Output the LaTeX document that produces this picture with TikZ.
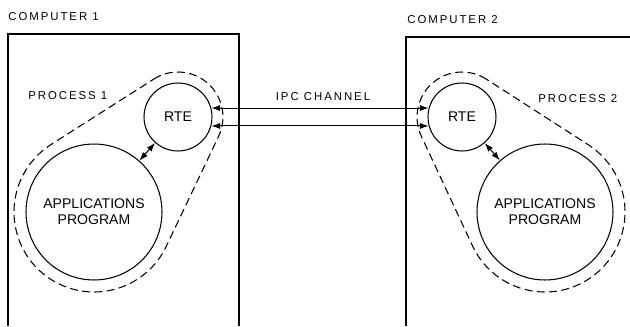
\documentclass[tikz,border=0pt]{standalone}
\usepackage{fontspec}
\setmainfont{Liberation Sans}
\usetikzlibrary{arrows.meta,calc}
\begin{document}
\begin{tikzpicture}[x=0.02cm,y=0.02cm,
  box/.style={line width=0.7pt},
  circ/.style={circle,draw,line width=0.6pt,inner sep=0pt,align=center,font=\fontsize{8}{9}\selectfont},
  hull/.style={line width=0.6pt,dash pattern=on 4.5pt off 2.5pt},
  lab/.style={font=\fontsize{6.5}{8}\selectfont\addfontfeature{LetterSpace=17},inner sep=0pt},
  link/.style={line width=0.6pt,{Latex[length=5pt,width=3.5pt]}-{Latex[length=5pt,width=3.5pt]}}]
\useasboundingbox (0,0) rectangle (630,326);

% computers
\draw[box] (8,0) |- (239,292) -- (239,0);
\draw[box] (406,0) |- (630,289);
\node[lab,anchor=west] (c1) at (8,309) {COMPUTER 1};
\node[lab,anchor=west] (c2) at (407,306) {COMPUTER 2};

% process 1
\node[circ,minimum size=1.36cm] (rte1) at (178,209) {RTE};
\node[circ,minimum size=2.72cm] (app1) at (94,114) {APPLICATIONS\\PROGRAM};
\draw[hull] ($(178,209)+(122.5:45)$) arc[start angle=122.5, end angle=-25.5, radius=45]
  -- ($(94,114)+(-25.5:80)$) arc[start angle=-25.5, end angle=-237.5, radius=80] -- cycle;
\node[lab,anchor=west] (p1) at (28,230) {PROCESS 1};
\draw[link] (rte1) -- (app1);

% process 2
\node[circ,minimum size=1.36cm] (rte2) at (462,209) {RTE};
\node[circ,minimum size=2.72cm] (app2) at (545,114) {APPLICATIONS\\PROGRAM};
\draw[hull] ($(462,209)+(57.2:45)$) arc[start angle=57.2, end angle=205.0, radius=45]
  -- ($(545,114)+(205.0:80)$) arc[start angle=205.0, end angle=417.2, radius=80] -- cycle;
\node[lab,anchor=west] (p2) at (538,227) {PROCESS 2};
\draw[link] (rte2) -- (app2);

% IPC channel
\node[lab] (ipc) at (323,229) {IPC CHANNEL};
\draw[link] (rte1.15) -- (rte2.165);
\draw[link] (rte1.-15) -- (rte2.-165);
\end{tikzpicture}
\end{document}
